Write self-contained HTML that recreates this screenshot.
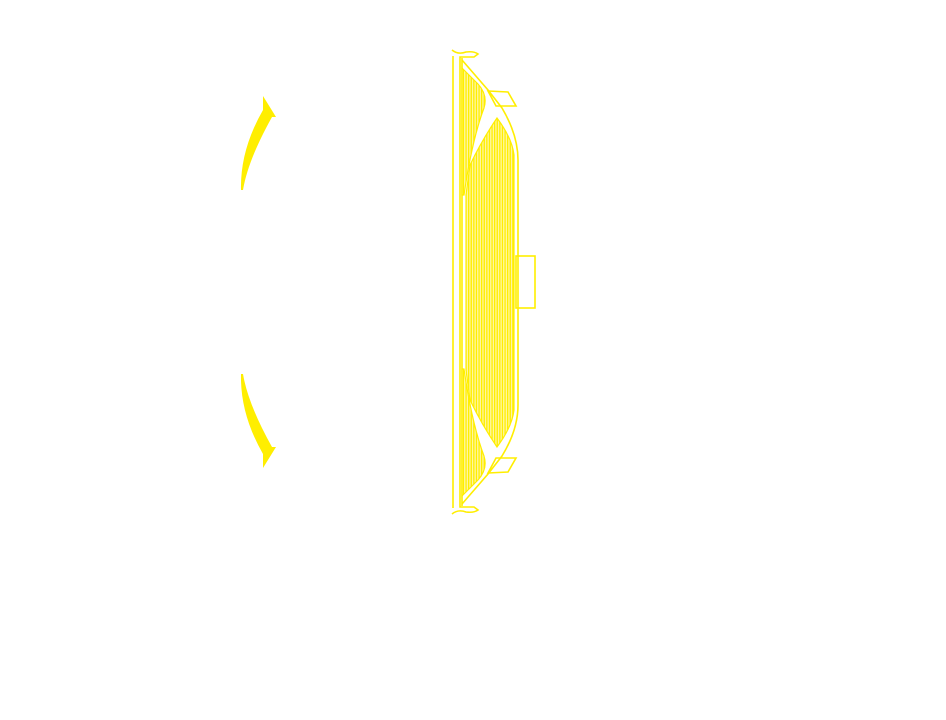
<!DOCTYPE html>
<html><head><style>html,body{margin:0;background:#fff;width:946px;height:720px;overflow:hidden}</style></head>
<body>
<svg width="946" height="720" viewBox="0 0 946 720" xmlns="http://www.w3.org/2000/svg">
<defs>
<pattern id="h" width="2.6" height="10" patternUnits="userSpaceOnUse">
<rect width="2.6" height="10" fill="#fff6a0"/><rect width="1.3" height="10" fill="#ffee00"/>
</pattern>
</defs>
<g fill="#ffee00">
<path d="M263,96 L276,117 L272,117 Q248,160 243,190 L241,190 Q240,150 263,110 Z"/>
<path d="M263,468 L276,447 L272,447 Q248,404 243,374 L241,374 Q240,414 263,454 Z"/>
</g>
<g fill="none" stroke="#ffee00" stroke-width="1.6">
<path d="M452,50 Q458,55 466,52 Q474,51 478,54 L474,57 L460,57 L460,507 L474,507 L478,510 Q474,513 466,512 Q458,509 452,514"/>
<line x1="453" y1="56" x2="453" y2="508"/>
<line x1="462" y1="58" x2="462" y2="506"/>
<path d="M462,60 L488,90 L502,108 Q518,135 518,160 L518,405 Q518,430 502,456 L488,474 L462,504"/>
<path d="M488,91 L508,92 L516,106 L496,106 Z"/>
<path d="M488,473 L508,472 L516,458 L496,458 Z"/>
<rect x="516" y="256" width="19" height="52"/>
</g>
<g stroke="#ffee00" stroke-width="1.2" fill="url(#h)">
<path d="M497,118 Q512,138 514,155 L514,410 Q512,427 497,447 Q482,425 470,400 L466,370 L466,195 L470,165 Q482,140 497,118 Z"/>
<path d="M462,68 L478,84 Q488,95 484,108 Q472,140 464,195 L462,195 Z"/>
<path d="M462,496 L478,480 Q488,469 484,456 Q472,424 464,369 L462,369 Z"/>
</g>
</svg>
</body></html>
